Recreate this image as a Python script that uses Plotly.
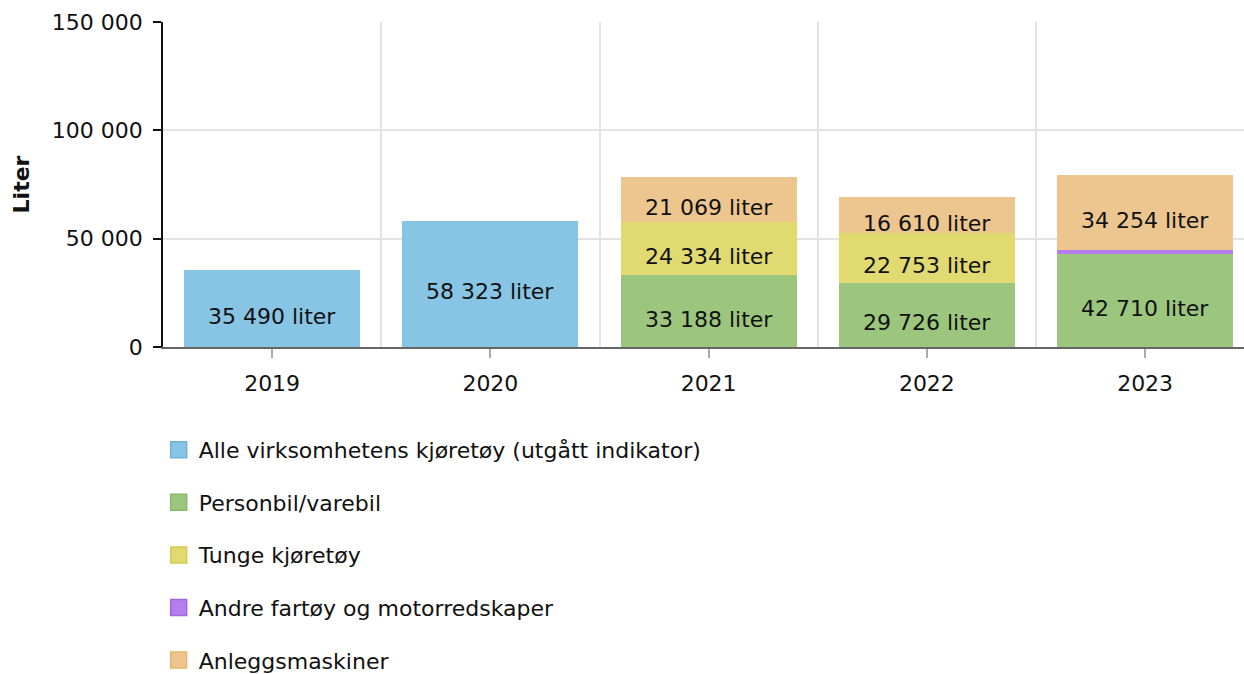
import plotly.graph_objects as go

years = ["2019", "2020", "2021", "2022", "2023"]
alle = [35490, 58323, None, None, None]
personbil = [None, None, 33188, 29726, 42710]
tunge = [None, None, 24334, 22753, None]
andre = [None, None, None, None, 2200]
anlegg = [None, None, 21069, 16610, 34254]

series = [
    ("Alle virksomhetens kjøretøy (utgått indikator)", alle, "#88c4e4", "#6fb3d9", True),
    ("Personbil/varebil", personbil, "#9cc67e", "#86b866", True),
    ("Tunge kjøretøy", tunge, "#e0da70", "#d3cc55", True),
    ("Andre fartøy og motorredskaper", andre, "#b47eec", "#a265e6", False),
    ("Anleggsmaskiner", anlegg, "#ecc68e", "#e4b670", True),
]

FONT = "DejaVu Sans, Verdana, sans-serif"
FS = 22
xpos = list(range(len(years)))


def fmt(v):
    return f"{v:,.0f}".replace(",", " ") + " liter"


fig = go.Figure()
base = [0] * len(years)
annotations = []
for name, vals, color, edge, label in series:
    fig.add_trace(go.Bar(
        x=xpos, y=vals, name=name, marker=dict(color=color, line=dict(width=0)),
        width=0.807, showlegend=False, textposition="none",
        hovertemplate="%{y:,.0f} liter<extra>" + name + "</extra>",
    ))
    for i, v in enumerate(vals):
        if v is None:
            continue
        if label:
            annotations.append(dict(
                x=xpos[i], y=base[i] + v / 2, xref="x", yref="y", text=fmt(v),
                showarrow=False, yshift=-8,
                font=dict(size=FS, family=FONT, color="#111111"),
            ))
        base[i] += v
for name, vals, color, edge, label in series:
    fig.add_trace(go.Scatter(
        x=[None], y=[None], mode="markers", name=name, legendgroup=name,
        marker=dict(symbol="square", size=30, color=color, line=dict(color=edge, width=1.5)),
        showlegend=True, hoverinfo="skip",
    ))

fig.update_layout(
    width=1244, height=674, autosize=False,
    barmode="stack",
    separators=", ",
    paper_bgcolor="white", plot_bgcolor="white",
    margin=dict(l=163, r=0, t=22, b=327, autoexpand=False),
    font=dict(family=FONT, size=FS, color="#111111"),
    annotations=annotations,
    legend=dict(
        orientation="v", x=-0.004, xanchor="left", y=-0.252, yanchor="top",
        font=dict(size=FS, family=FONT, color="#111111"),
        tracegroupgap=21, itemsizing="trace", bgcolor="rgba(0,0,0,0)",
    ),
    xaxis=dict(
        range=[-0.5, 4.453], tickmode="array", tickvals=xpos, ticktext=years,
        showgrid=False, zeroline=False, automargin=False,
        showline=True, linecolor="#666666", linewidth=2,
        ticks="outside", ticklen=9, tickwidth=1.5, tickcolor="#aaaaaa",
        ticklabelstandoff=7,
        tickfont=dict(size=FS, family=FONT, color="#111111"),
        minor=dict(tick0=0.5, dtick=1, showgrid=True, gridcolor="#e3e3e3", gridwidth=1.5, ticks=""),
    ),
    yaxis=dict(
        range=[0, 150000], tickmode="array", tickvals=[0, 50000, 100000, 150000],
        tickformat=",d", showgrid=True, gridcolor="#e3e3e3", gridwidth=1.5,
        zeroline=False, showline=True, linecolor="#111111", linewidth=1.5, automargin=False,
        ticks="outside", ticklen=8, tickwidth=1.5, tickcolor="#111111",
        ticklabelstandoff=6,
        tickfont=dict(size=FS, family=FONT, color="#111111"),
        title=dict(text="<b>Liter</b>", font=dict(size=FS, family=FONT, color="#111111"), standoff=16),
    ),
)

fig.write_html(
    "out.html",
    config={"displayModeBar": False},
    post_script="document.body.style.margin='0';document.body.style.overflow='hidden';",
)
